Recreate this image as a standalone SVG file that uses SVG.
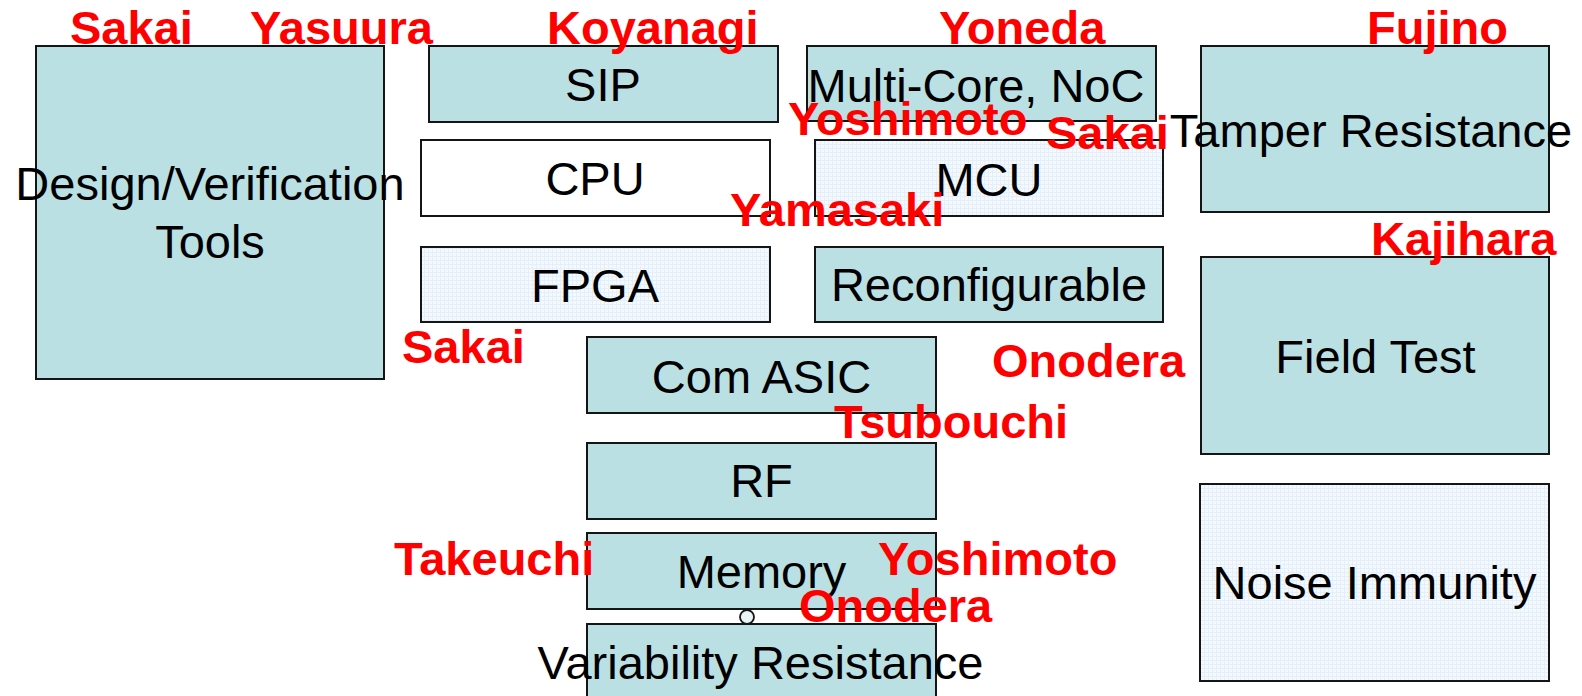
<svg xmlns="http://www.w3.org/2000/svg" width="1582" height="696" viewBox="0 0 1582 696">
<defs>
<pattern id="grid" width="4" height="4" patternUnits="userSpaceOnUse">
<rect width="4" height="4" fill="#f4f9fd"/>
<path d="M0 0.5H4M0.5 0V4" stroke="#e3f0f9" stroke-width="1"/>
</pattern>
<style>
.box{stroke:#151515;stroke-width:2}
.teal{fill:#bae0e3}
.white{fill:#ffffff}
.light{fill:url(#grid)}
.t{font-family:"Liberation Sans",Arial,sans-serif;font-size:47px;fill:#000;text-anchor:middle}
.n{font-family:"Liberation Sans",Arial,sans-serif;font-size:47px;font-weight:bold;fill:#ff0000}
</style>
</defs>
<rect width="1582" height="696" fill="#ffffff"/>
<g id="design-verification-tools"><rect class="box teal" x="36" y="46" width="348" height="333"/><text class="t" x="210" y="200">Design/Verification</text><text class="t" x="210" y="258">Tools</text></g>
<g id="sip"><rect class="box teal" x="429" y="46" width="349" height="76"/><text class="t" x="603" y="101">SIP</text></g>
<g id="cpu"><rect class="box white" x="421" y="140" width="349" height="76"/><text class="t" x="595" y="195">CPU</text></g>
<g id="fpga"><rect class="box light" x="421" y="247" width="349" height="75"/><text class="t" x="595" y="302">FPGA</text></g>
<g id="multi-core-noc"><rect class="box teal" x="807" y="46" width="349" height="75"/><text class="t" x="976" y="102">Multi-Core, NoC</text></g>
<g id="mcu"><rect class="box light" x="815" y="140" width="348" height="76"/><text class="t" x="989" y="196">MCU</text></g>
<g id="reconfigurable"><rect class="box teal" x="815" y="247" width="348" height="75"/><text class="t" x="989" y="301">Reconfigurable</text></g>
<g id="com-asic"><rect class="box teal" x="587" y="337" width="349" height="76"/><text class="t" x="761.5" y="393">Com ASIC</text></g>
<g id="rf"><rect class="box teal" x="587" y="443" width="349" height="76"/><text class="t" x="761.5" y="497">RF</text></g>
<g id="memory"><rect class="box teal" x="587" y="533" width="349" height="76"/><text class="t" x="761.5" y="588">Memory</text></g>
<g id="variability-resistance"><rect class="box teal" x="587" y="624" width="349" height="90"/><text class="t" x="760.5" y="679">Variability Resistance</text></g>
<g id="tamper-resistance"><rect class="box teal" x="1201" y="46" width="348" height="166"/><text class="t" x="1371" y="147">Tamper Resistance</text></g>
<g id="field-test"><rect class="box teal" x="1201" y="257" width="348" height="197"/><text class="t" x="1375.5" y="373">Field Test</text></g>
<g id="noise-immunity"><rect class="box light" x="1200" y="484" width="349" height="197"/><text class="t" x="1374.5" y="599">Noise Immunity</text></g>
<g id="connectors"><circle cx="747" cy="617" r="7" fill="#e8f4f5" stroke="#151515" stroke-width="1.8"/></g>
<g id="names">
<text class="n" x="70" y="44">Sakai</text>
<text class="n" x="250" y="44">Yasuura</text>
<text class="n" x="547" y="44">Koyanagi</text>
<text class="n" x="939" y="44">Yoneda</text>
<text class="n" x="1367" y="44">Fujino</text>
<text class="n" x="788" y="135">Yoshimoto</text>
<text class="n" x="1046" y="149">Sakai</text>
<text class="n" x="730" y="226">Yamasaki</text>
<text class="n" x="1371" y="255">Kajihara</text>
<text class="n" x="402" y="363">Sakai</text>
<text class="n" x="992" y="377">Onodera</text>
<text class="n" x="834" y="438">Tsubouchi</text>
<text class="n" x="394" y="575">Takeuchi</text>
<text class="n" x="878" y="575">Yoshimoto</text>
<text class="n" x="799" y="622">Onodera</text>
</g>
</svg>
